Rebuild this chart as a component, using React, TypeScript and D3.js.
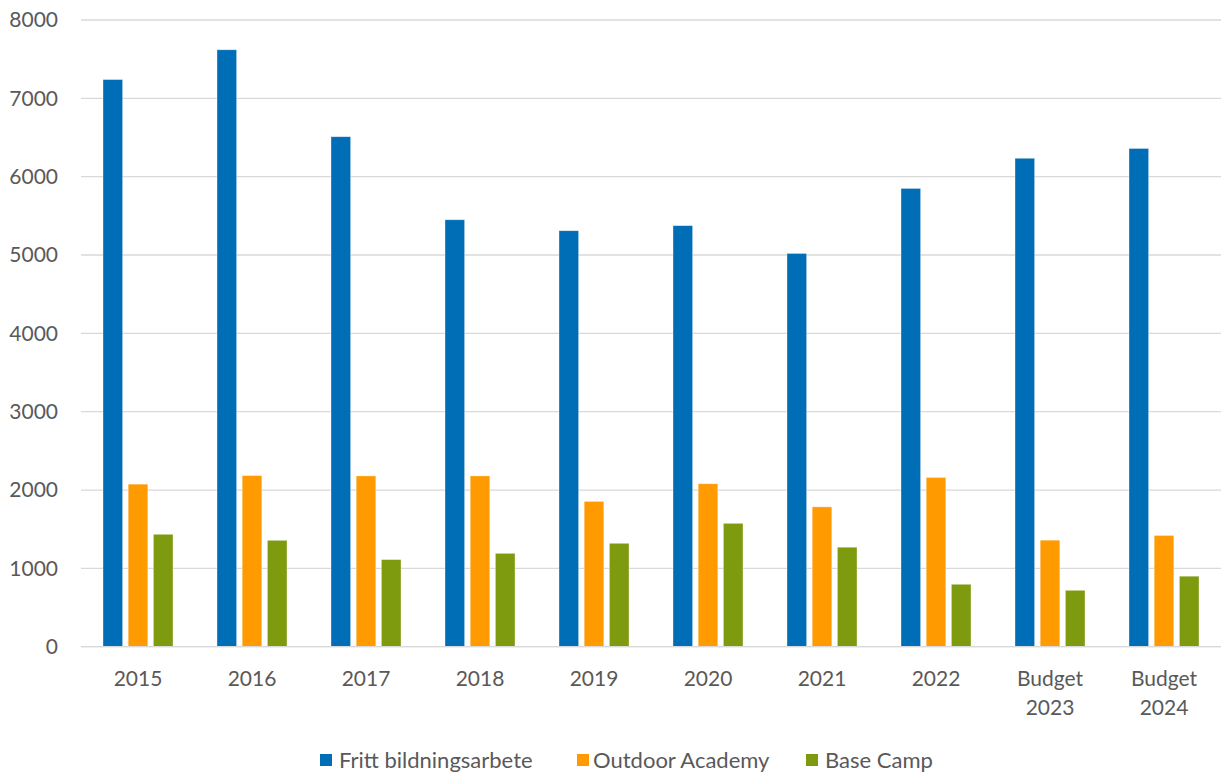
import React from "react";
import * as d3 from "d3";

const categories = ["2015", "2016", "2017", "2018", "2019", "2020", "2021", "2022", "Budget 2023", "Budget 2024"];
const seriesNames = ["Fritt bildningsarbete", "Outdoor Academy", "Base Camp"];
const frittValues = [7240, 7620, 6510, 5450, 5310, 5375, 5020, 5850, 6235, 6360];
const outdoorValues = [2075, 2185, 2180, 2180, 1855, 2080, 1785, 2160, 1360, 1420];
const baseCampValues = [1435, 1358, 1112, 1192, 1320, 1575, 1270, 797, 720, 900];
const yTicks = [0, 1000, 2000, 3000, 4000, 5000, 6000, 7000, 8000];

const colors = ["#006EB6", "#FF9A00", "#7E9A0F"];
const seriesValues = [frittValues, outdoorValues, baseCampValues];

const W = 1223;
const H = 776;
const left = 81;
const right = 1221;
const top = 20;
const bottom = 646.7;
const FONT = "Lato, 'Open Sans', sans-serif";
const TEXT = "#595959";

export default function App() {
  const x = d3.scaleBand<string>().domain(categories).range([left, right]).paddingInner(0).paddingOuter(0);
  const y = d3.scaleLinear().domain([0, 8000]).range([bottom, top]);
  const groupW = 70;
  const inner = d3
    .scaleBand<number>()
    .domain([0, 1, 2])
    .range([0, groupW])
    .paddingInner(0.22);

  const legendItems = [
    { sq: 320, tx: 339 },
    { sq: 577, tx: 593 },
    { sq: 806, tx: 825 },
  ];

  return (
    <svg width={W} height={H} style={{ position: "absolute", left: 0, top: 0, background: "#fff" }}>
      <rect x={0} y={0} width={W} height={H} fill="#fff" />
      {yTicks.map((t) => (
        <g key={t}>
          <line x1={left} x2={right} y1={y(t)} y2={y(t)} stroke="#D9D9D9" strokeWidth={1.3} />
          <text
            x={58}
            y={y(t)}
            dy="0.35em"
            textAnchor="end"
            fontFamily={FONT}
            fontSize={21}
            fill={TEXT}
          >
            {t}
          </text>
        </g>
      ))}
      {categories.map((c, i) => {
        const cx = (x(c) as number) + x.bandwidth() / 2;
        const gx = cx - groupW / 2;
        return (
          <g key={c}>
            {seriesValues.map((vals, s) => (
              <rect
                key={s}
                x={gx + (inner(s) as number)}
                y={y(vals[i])}
                width={inner.bandwidth()}
                height={y(0) - y(vals[i])}
                fill={colors[s]}
                stroke="#ffffff"
                strokeOpacity={0.5}
                strokeWidth={0.7}
              />
            ))}
            {c.split(" ").length > 1 ? (
              <text textAnchor="middle" fontFamily={FONT} fontSize={21} fill={TEXT}>
                <tspan x={cx} y={686}>{c.split(" ")[0]}</tspan>
                <tspan x={cx} y={715}>{c.split(" ")[1]}</tspan>
              </text>
            ) : (
              <text x={cx} y={686} textAnchor="middle" fontFamily={FONT} fontSize={21} fill={TEXT}>
                {c}
              </text>
            )}
          </g>
        );
      })}
      <line x1={left} x2={right} y1={y(0)} y2={y(0)} stroke="#D9D9D9" strokeWidth={1.3} />
      {seriesNames.map((n, i) => (
        <g key={n}>
          <rect x={legendItems[i].sq} y={754} width={12} height={12} fill={colors[i]} />
          <text x={legendItems[i].tx} y={760} dy="0.35em" fontFamily={FONT} fontSize={22} fill={TEXT}>
            {n}
          </text>
        </g>
      ))}
    </svg>
  );
}
